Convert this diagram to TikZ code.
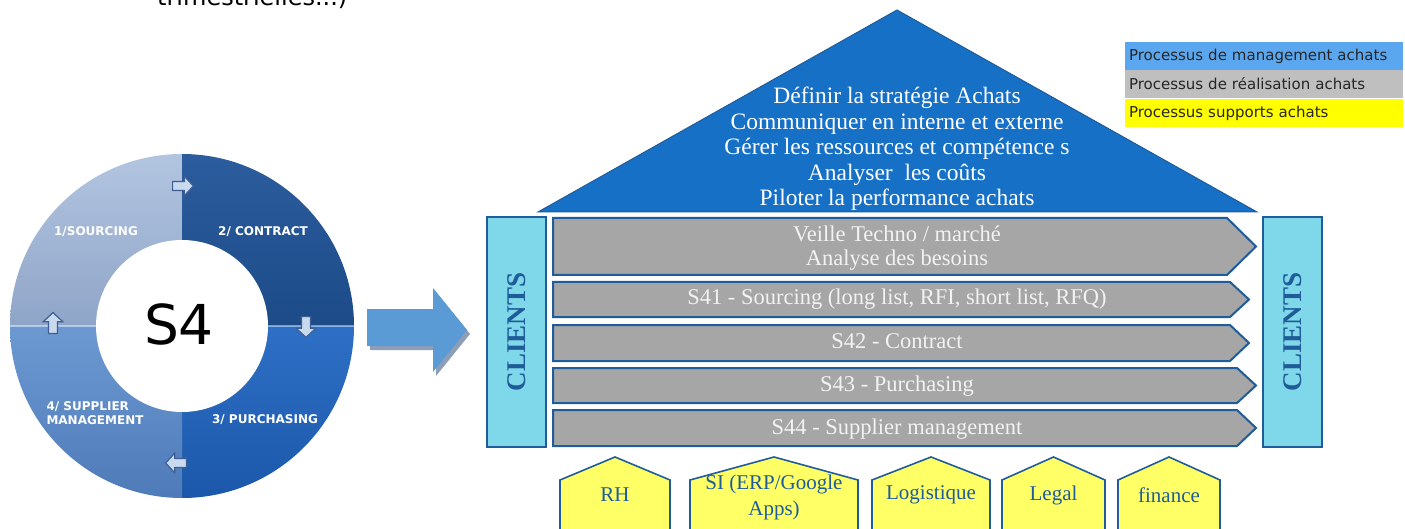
\documentclass[tikz,border=0pt]{standalone}
\usepackage{fontspec}
\setmainfont{Liberation Serif}
\newfontfamily\verdana{DejaVu Sans}
\definecolor{roofblue}{HTML}{1670C6}
\definecolor{edgeblue}{HTML}{1F5C99}
\definecolor{barfill}{HTML}{A6A6A6}
\definecolor{clientcyan}{HTML}{7FD8EA}
\definecolor{supyellow}{HTML}{FFFF66}
\definecolor{arrowblue}{HTML}{5B9BD5}
\definecolor{shadowgray}{HTML}{8E9EB6}
\definecolor{legblue}{HTML}{5BA7EF}
\definecolor{leggray}{HTML}{BFBFBF}
\definecolor{legyellow}{HTML}{FFFF00}
\definecolor{qonetop}{HTML}{B5C7E2}
\definecolor{qonebot}{HTML}{8FA5C8}
\definecolor{qtwotop}{HTML}{2D5E9F}
\definecolor{qtwobot}{HTML}{1C4B88}
\definecolor{qthreetop}{HTML}{2E70C6}
\definecolor{qthreebot}{HTML}{1A56A8}
\definecolor{qfourtop}{HTML}{6D99D2}
\definecolor{qfourbot}{HTML}{4C79B7}
\definecolor{tinyfill}{HTML}{C9D9EE}
\definecolor{tinyedge}{HTML}{3E5F93}

\begin{document}
\begin{tikzpicture}[x=1pt, y=-1pt, node distance=43pt,
  bar/.style={fill=barfill, draw=edgeblue, line width=2pt},
  bartext/.style={text=white!95!black, font=\fontsize{22.5}{24}\selectfont, align=center},
  client/.style={fill=clientcyan, draw=edgeblue, line width=2pt, rotate=90, minimum width=230pt, minimum height=59pt, inner sep=0pt, text=edgeblue, font=\fontsize{27}{27}\selectfont\bfseries},
  support/.style={fill=supyellow, draw=edgeblue, line width=1.6pt},
  suptext/.style={text=edgeblue, font=\fontsize{21}{26}\selectfont, align=center},
  legend/.style={minimum height=28pt, text width=270pt, inner xsep=4pt, align=left, font=\verdana\fontsize{15}{15}\selectfont, text=black!85},
  ringlabel/.style={text=white, font=\verdana\bfseries\fontsize{12}{13.5}\selectfont, align=left}]
  \useasboundingbox (0,0) rectangle (1405,529);
  \clip (0,0) rectangle (1405,529);

  \node[anchor=base west, inner sep=0pt, font=\verdana\fontsize{24}{24}\selectfont] (trim) at (157,6) {trimestrielles...)};

  % S4 cycle
  \coordinate (ring) at (182,326);
  \begin{scope}
    \clip (ring) circle[radius=172];
    \shade[top color=qonetop, bottom color=qonebot] (0,140) rectangle (182,326);
    \shade[top color=qtwotop, bottom color=qtwobot] (182,140) rectangle (360,326);
    \shade[top color=qthreetop, bottom color=qthreebot] (182,326) rectangle (360,510);
    \shade[top color=qfourtop, bottom color=qfourbot] (0,326) rectangle (182,510);
  \end{scope}
  \draw[white, opacity=.45, line width=1.2pt] (10,326) -- (354,326);
  \fill[white] (ring) circle[radius=86];
  \foreach \x/\y/\a in {183/186/0, 306/327/-90, 176/463/180, 53/323/90}
    \draw[fill=tinyfill, draw=tinyedge, line width=1.2pt, shift={(\x,\y)}, rotate=\a, scale=1.3]
      (-8,-3.5) -- (1,-3.5) -- (1,-7.5) -- (8,0) -- (1,7.5) -- (1,3.5) -- (-8,3.5) -- cycle;
  \node[ringlabel] (src) at (96,232) {1/SOURCING};
  \node[ringlabel] (ctr) at (263,232) {2/ CONTRACT};
  \node[ringlabel] (pur) at (265,420) {3/ PURCHASING};
  \node[ringlabel] (sup) at (95,413) {4/ SUPPLIER\\MANAGEMENT};
  \node[font=\verdana\fontsize{55}{55}\selectfont] (s4) at (179,324) {S4};

  % big arrow
  \fill[shadowgray, shift={(3,4)}] (367,309) -- (433,309) -- (433,288) -- (467,330) -- (433,372) -- (433,346) -- (367,346) -- cycle;
  \fill[arrowblue] (367,309) -- (433,309) -- (433,288) -- (467,330) -- (433,372) -- (433,346) -- (367,346) -- cycle;

  % house
  \draw[fill=roofblue, draw=edgeblue, line width=1pt] (538,212) -- (897,10) -- (1257,212) -- cycle;
  \node[text=white, align=center, font=\fontsize{23.5}{25.5}\selectfont] (roof) at (897,149)
    {Définir la stratégie Achats\\Communiquer en interne et externe\\Gérer les ressources et compétence s\\Analyser\ \ les coûts\\Piloter la performance achats};

  \draw[bar] (553,218) -- (1227,218) -- (1256,246.5) -- (1227,275) -- (553,275) -- cycle;
  \draw[bar] (553,282) -- (1230,282) -- (1249,299.5) -- (1230,317) -- (553,317) -- cycle;
  \draw[bar] (553,325) -- (1230,325) -- (1249,343) -- (1230,361) -- (553,361) -- cycle;
  \draw[bar] (553,368) -- (1237,368) -- (1256,385.5) -- (1237,403) -- (553,403) -- cycle;
  \draw[bar] (553,410) -- (1237,410) -- (1256,428) -- (1237,446) -- (553,446) -- cycle;
  \node[bartext] (veille) at (897,248) {Veille Techno / marché\\Analyse des besoins};
  \node[bartext, text height=15pt, text depth=5pt] (s41) at (897,300) {S41 - Sourcing (long list, RFI, short list, RFQ)};
  \node[bartext, text height=15pt, text depth=5pt, below of=s41] (s42) {S42 - Contract};
  \node[bartext, text height=15pt, text depth=5pt, below of=s42] (s43) {S43 - Purchasing};
  \node[bartext, text height=15pt, text depth=5pt, below of=s43] (s44) {S44 - Supplier management};

  \node[client] (cl1) at (516.5,332) {CLIENTS};
  \node[client] (cl2) at (1292.5,332) {CLIENTS};

  % supports
  \draw[support] (560,540) -- (560,480) -- (615,457) -- (670,480) -- (670,540) -- cycle;
  \draw[support] (690,540) -- (690,480) -- (774,457) -- (858,480) -- (858,540) -- cycle;
  \draw[support] (872,540) -- (872,480) -- (931,457) -- (990,480) -- (990,540) -- cycle;
  \draw[support] (1002,540) -- (1002,480) -- (1053.5,457) -- (1105,480) -- (1105,540) -- cycle;
  \draw[support] (1118,540) -- (1118,480) -- (1169,457) -- (1220,480) -- (1220,540) -- cycle;
  \node[suptext] (rh) at (615,495) {RH};
  \node[suptext] (si) at (774,497) {SI (ERP/Google\\Apps)};
  \node[suptext] (logi) at (931,495) {Logistique};
  \node[suptext] (legal) at (1053.5,495) {Legal};
  \node[suptext] (fin) at (1169,495) {finance};

  % legend
  \node[legend, fill=legblue] (leg1) at (1264,56) {Processus de management achats};
  \node[legend, fill=leggray, below of=leg1, node distance=28pt] (leg2) {Processus de réalisation achats};
  \node[legend, fill=legyellow, below of=leg2, node distance=29pt] (leg3) {Processus supports achats};
\end{tikzpicture}
\end{document}
